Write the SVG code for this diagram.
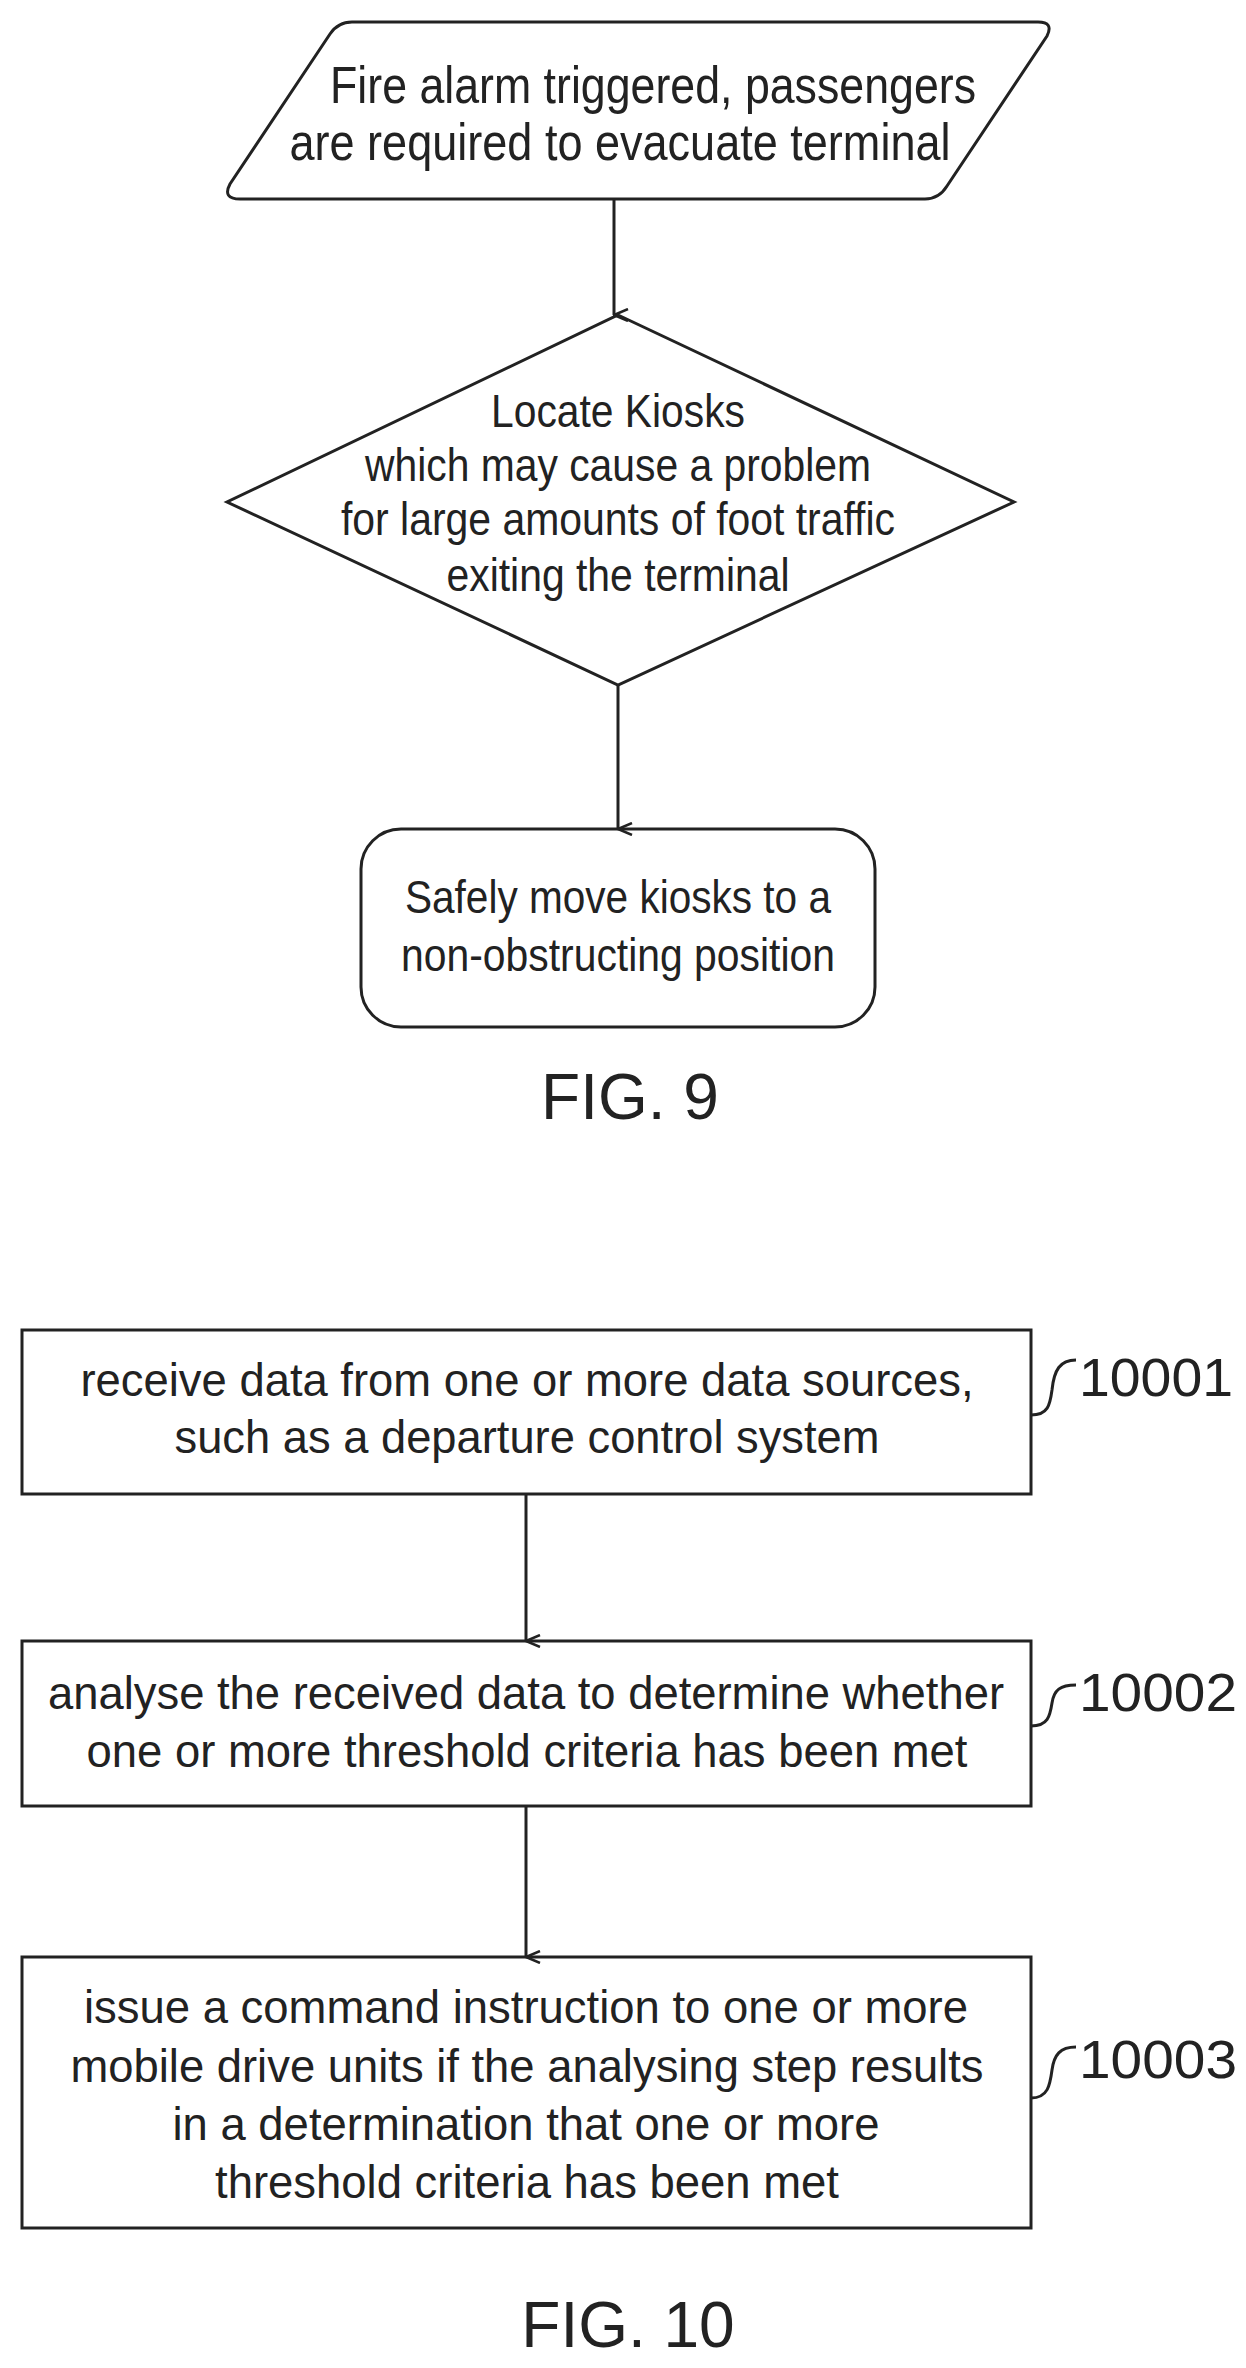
<svg xmlns="http://www.w3.org/2000/svg" width="1246" height="2368" viewBox="0 0 1246 2368">
<style>
.s{fill:none;stroke:#222;stroke-width:3}
.t{font-family:"Liberation Sans",Arial,sans-serif;font-size:46px;fill:#222;text-anchor:middle}
.f{font-family:"Liberation Sans",Arial,sans-serif;font-size:64px;fill:#222;text-anchor:middle}
.l{font-family:"Liberation Sans",Arial,sans-serif;font-size:54px;fill:#222}
</style>
<defs><marker id="a" markerWidth="14" markerHeight="16" refX="7" refY="15" orient="auto-start-reverse" markerUnits="userSpaceOnUse" viewBox="0 0 14 16"><path d="M1,1 L7,15 L13,1" fill="none" stroke="#222" stroke-width="2.5"/></marker></defs>
<g id="connectors">
<line class="s" x1="614" y1="199" x2="614" y2="315" marker-end="url(#a)"/>
<line class="s" x1="618" y1="685" x2="618" y2="829" marker-end="url(#a)"/>
<line class="s" x1="526" y1="1494" x2="526" y2="1641" marker-end="url(#a)"/>
<line class="s" x1="526" y1="1806" x2="526" y2="1957" marker-end="url(#a)"/>
</g>
<g id="n1"><path class="s" d="M352,22 H1038 Q1054,22 1047,36 L947,186 Q939,199 925,199 H240 Q222,199 230,184 L330,34 Q338,22 352,22 Z"/>
<text class="t" x="653" y="103" textLength="646" lengthAdjust="spacingAndGlyphs" style="font-size:52px">Fire alarm triggered, passengers</text>
<text class="t" x="620" y="160" textLength="661" lengthAdjust="spacingAndGlyphs" style="font-size:52px">are required to evacuate terminal</text></g>
<g id="n2"><path class="s" d="M618,315 L1014,502 L618,685 L227,502 Z"/>
<text class="t" x="618" y="427" textLength="254" lengthAdjust="spacingAndGlyphs">Locate Kiosks</text>
<text class="t" x="618" y="481" textLength="506" lengthAdjust="spacingAndGlyphs">which may cause a problem</text>
<text class="t" x="618" y="535" textLength="554" lengthAdjust="spacingAndGlyphs">for large amounts of foot traffic</text>
<text class="t" x="618" y="591" textLength="343" lengthAdjust="spacingAndGlyphs">exiting the terminal</text></g>
<g id="n3"><rect class="s" x="361" y="829" width="514" height="198" rx="40"/>
<text class="t" x="618" y="913" textLength="426" lengthAdjust="spacingAndGlyphs">Safely move kiosks to a</text>
<text class="t" x="618" y="971" textLength="434" lengthAdjust="spacingAndGlyphs">non-obstructing position</text></g>
<text class="f" x="630" y="1119">FIG. 9</text>
<g id="n4"><rect class="s" x="22" y="1330" width="1009" height="164"/>
<text class="t" x="527" y="1396" textLength="893" lengthAdjust="spacingAndGlyphs">receive data from one or more data sources,</text>
<text class="t" x="527" y="1453" textLength="705" lengthAdjust="spacingAndGlyphs">such as a departure control system</text>
<path class="s" d="M1031,1415 C1048,1415 1050,1405 1052,1390 C1054,1370 1060,1360 1076,1360"/>
<text class="l" x="1079" y="1396" textLength="154" lengthAdjust="spacingAndGlyphs">10001</text></g>
<g id="n5"><rect class="s" x="22" y="1641" width="1009" height="165"/>
<text class="t" x="526" y="1709" textLength="956" lengthAdjust="spacingAndGlyphs">analyse the received data to determine whether</text>
<text class="t" x="527" y="1767" textLength="881" lengthAdjust="spacingAndGlyphs">one or more threshold criteria has been met</text>
<path class="s" d="M1031,1726 C1048,1726 1050,1716 1052,1703 C1054,1690 1060,1685 1076,1685"/>
<text class="l" x="1079" y="1711" textLength="158" lengthAdjust="spacingAndGlyphs">10002</text></g>
<g id="n6"><rect class="s" x="22" y="1957" width="1009" height="271"/>
<text class="t" x="526" y="2023" textLength="884" lengthAdjust="spacingAndGlyphs">issue a command instruction to one or more</text>
<text class="t" x="527" y="2082" textLength="913" lengthAdjust="spacingAndGlyphs">mobile drive units if the analysing step results</text>
<text class="t" x="526" y="2140" textLength="707" lengthAdjust="spacingAndGlyphs">in a determination that one or more</text>
<text class="t" x="527" y="2198" textLength="624" lengthAdjust="spacingAndGlyphs">threshold criteria has been met</text>
<path class="s" d="M1031,2098 C1048,2098 1050,2085 1052,2070 C1054,2055 1060,2047 1076,2047"/>
<text class="l" x="1079" y="2078" textLength="158" lengthAdjust="spacingAndGlyphs">10003</text></g>
<text class="f" x="628" y="2347">FIG. 10</text>
</svg>
